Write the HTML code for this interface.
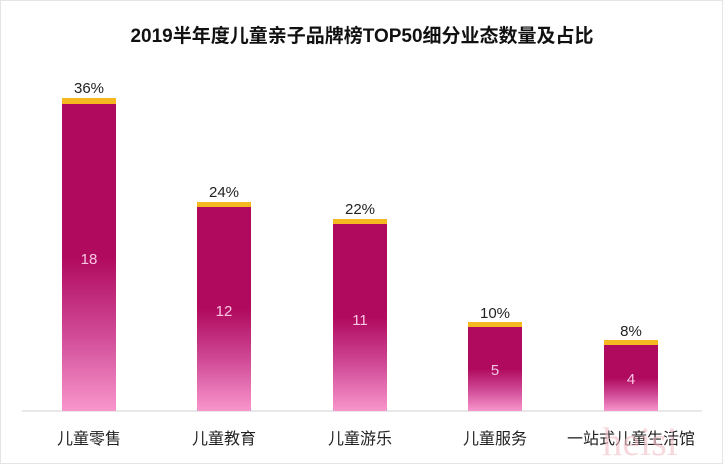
<!DOCTYPE html>
<html><head><meta charset="utf-8"><style>
body{margin:0;width:724px;height:465px;background:#fff;overflow:hidden;font-family:"Liberation Sans","Noto Sans CJK SC",sans-serif;}
</style></head><body>
<svg width="724" height="465" xmlns="http://www.w3.org/2000/svg">
<defs><linearGradient id="g" x1="0" y1="0" x2="0" y2="1">
<stop offset="0" stop-color="#B00A5E"/><stop offset="0.5" stop-color="#B00A5E"/><stop offset="0.75" stop-color="#D04A96"/><stop offset="1" stop-color="#F896CC"/></linearGradient></defs>
<rect x="0.5" y="0.5" width="722" height="463" fill="none" stroke="#e4e4e4"/>
<text x="362" y="42" text-anchor="middle" font-size="19" font-weight="bold" fill="#111" font-family="Liberation Sans,Noto Sans CJK SC,sans-serif">2019半年度儿童亲子品牌榜TOP50细分业态数量及占比</text>
<line x1="22" y1="411" x2="702" y2="411" stroke="#d0d0d0"/>
<g font-size="15" fill="#222" text-anchor="middle">
<rect x="62" y="104" width="54" height="307" fill="url(#g)"/><rect x="62" y="98" width="54" height="6" fill="#F5B820"/>
<text x="89" y="93">36%</text><text x="89" y="264" fill="#f7c6e4">18</text>
<rect x="197" y="207" width="54" height="204" fill="url(#g)"/><rect x="197" y="202" width="54" height="5" fill="#F5B820"/>
<text x="224" y="197">24%</text><text x="224" y="316" fill="#f7c6e4">12</text>
<rect x="333" y="224" width="54" height="187" fill="url(#g)"/><rect x="333" y="219" width="54" height="5" fill="#F5B820"/>
<text x="360" y="214">22%</text><text x="360" y="325" fill="#f7c6e4">11</text>
<rect x="468" y="327" width="54" height="84" fill="url(#g)"/><rect x="468" y="322" width="54" height="5" fill="#F5B820"/>
<text x="495" y="318">10%</text><text x="495" y="375" fill="#f7c6e4">5</text>
<rect x="604" y="345" width="54" height="66" fill="url(#g)"/><rect x="604" y="340" width="54" height="5" fill="#F5B820"/>
<text x="631" y="336">8%</text><text x="631" y="384" fill="#f7c6e4">4</text>
<g font-size="16" fill="#222">
<text x="89" y="444">儿童零售</text><text x="224" y="444">儿童教育</text><text x="360" y="444">儿童游乐</text><text x="495" y="444">儿童服务</text><text x="631" y="444">一站式儿童生活馆</text>
</g></g>
<text x="640" y="455" font-size="40" fill="#f2c0c8" opacity="0.6" font-family="Liberation Serif,serif" text-anchor="middle">heisi</text>
</svg>
</body></html>
